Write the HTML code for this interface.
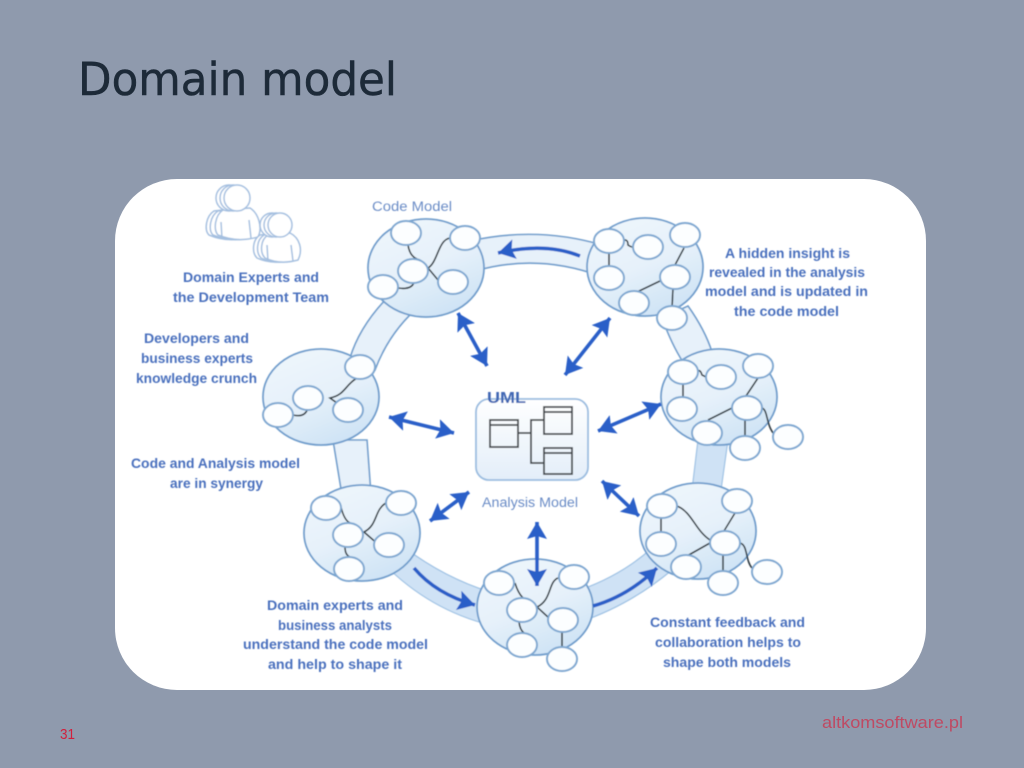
<!DOCTYPE html>
<html>
<head>
<meta charset="utf-8">
<style>
html,body{margin:0;padding:0;width:1024px;height:768px;overflow:hidden;background:#8f9aad}
svg{display:block}
.t{font-family:"Liberation Sans",sans-serif;font-weight:bold;font-size:13.5px;fill:#4a70bd}
.l{font-family:"Liberation Sans",sans-serif;font-size:13.5px;fill:#6a8cc6}
.c{fill:url(#cg);stroke:#6f9dcc;stroke-width:1.8}
.n ellipse{fill:#fcfeff;stroke:#7fa8d1;stroke-width:2}
.k path{fill:none;stroke:#2f3a42;stroke-width:1.6}
.b{fill:#e7f1fa;stroke:#6f9dcc;stroke-width:1.6}
.d{fill:#cfe2f5;stroke:#9fc2e4;stroke-width:1.2}
.a{fill:none;stroke:#2a5fc8;stroke-width:3.6;marker-end:url(#m)}
.a2{fill:none;stroke:#2a5fc8;stroke-width:3.6;marker-start:url(#m);marker-end:url(#m)}
.p{fill:#fff;stroke:#a5c0e0;stroke-width:1.5}
.p2{fill:none;stroke:#a5c0e0;stroke-width:1.5}
.u{fill:none;stroke:#44494e;stroke-width:1.8}
</style>
</head>
<body>
<svg width="1024" height="768" viewBox="0 0 1024 768" xmlns="http://www.w3.org/2000/svg">
<defs>
<linearGradient id="cg" x1="0.2" y1="0" x2="0.7" y2="1">
<stop offset="0" stop-color="#eef6fc"/><stop offset="0.5" stop-color="#e6f1fa"/><stop offset="1" stop-color="#cde2f5"/>
</linearGradient>
<linearGradient id="ug" x1="0" y1="0" x2="0" y2="1">
<stop offset="0" stop-color="#ffffff"/><stop offset="1" stop-color="#e3eef9"/>
</linearGradient>
<filter id="bl" x="-5%" y="-5%" width="110%" height="110%"><feGaussianBlur stdDeviation="0.45"/></filter>
<marker id="m" markerUnits="userSpaceOnUse" markerWidth="20" markerHeight="22" refX="17" refY="10" orient="auto-start-reverse">
<path d="M0 0 L17 10 L0 20 L3 10 Z" fill="#2a5fc8"/>
</marker>
</defs>

<text x="78" y="95" font-family="'DejaVu Sans','Liberation Sans',sans-serif" font-size="45" fill="#1d2a38" stroke="#1d2a38" stroke-width="0.5" textLength="319" lengthAdjust="spacingAndGlyphs">Domain model</text>

<rect x="115" y="179" width="811" height="511" rx="62" ry="62" fill="#ffffff"/>

<g filter="url(#bl)">
<!-- bands -->
<path class="b" d="M470 241 Q537 226 602 245 L600 276 Q537 253 475 271 Z"/>
<path class="b" d="M390 295 Q360 325 350 358 L375 370 Q388 335 415 310 Z"/>
<path class="b" d="M333 440 L342 495 L371 495 L367 440 Z"/>
<path class="b" d="M662 318 Q672 345 683 362 L712 352 Q705 330 688 306 Z"/>
<path class="d" d="M698 440 L692 490 L721 490 L728 440 Z"/>
<path class="d" d="M405 548 Q445 578 490 592 L490 625 Q430 610 385 565 Z"/>
<path class="d" d="M580 590 Q622 575 652 548 L672 570 Q630 605 580 622 Z"/>

<!-- clusters -->
<ellipse class="c" cx="426" cy="268" rx="58" ry="49"/>
<ellipse class="c" cx="645" cy="267" rx="58" ry="49"/>
<ellipse class="c" cx="321" cy="397" rx="58" ry="48"/>
<ellipse class="c" cx="719" cy="397" rx="58" ry="48"/>
<ellipse class="c" cx="698" cy="531" rx="58" ry="48"/>
<ellipse class="c" cx="362" cy="533" rx="58" ry="48"/>
<ellipse class="c" cx="535" cy="607" rx="58" ry="48"/>

<!-- links -->
<g class="k">
<path d="M408 245 Q410 258 420 260"/>
<path d="M450 238 C438 240 438 262 428 268 L438 280"/>
<path d="M398 288 Q412 290 414 282"/>
<path d="M622 241 Q628 238 628 245 Q632 248 636 247"/>
<path d="M609 252 L609 268"/>
<path d="M684 248 L675 265"/>
<path d="M660 281 L635 293"/>
<path d="M673 288 L672 308"/>
<path d="M357 378 C345 385 345 395 330 398 L347 410"/>
<path d="M293 415 Q305 418 308 408"/>
<path d="M696 372 Q700 368 702 375 L706 377"/>
<path d="M683 384 L683 397"/>
<path d="M758 378 L746 396"/>
<path d="M732 408 L708 420"/>
<path d="M745 420 L745 436"/>
<path d="M762 408 C768 410 766 425 774 434"/>
<path d="M677 506 C692 512 695 530 710 540"/>
<path d="M735 513 L724 531"/>
<path d="M661 518 L661 532"/>
<path d="M710 543 L687 556"/>
<path d="M723 555 L723 571"/>
<path d="M740 543 C748 545 745 560 752 568"/>
<path d="M341 507 Q344 520 350 523"/>
<path d="M386 503 C374 510 378 525 364 532 L379 545"/>
<path d="M345 547 Q345 555 350 557"/>
<path d="M515 583 Q518 593 523 598"/>
<path d="M558 578 C548 582 552 600 537 607 L549 618"/>
<path d="M519 622 Q520 630 524 633"/>
<path d="M562 632 L562 647"/>
</g>

<!-- nodes -->
<g class="n">
<ellipse cx="406" cy="233" rx="15" ry="12"/><ellipse cx="465" cy="238" rx="15" ry="12"/><ellipse cx="413" cy="271" rx="15" ry="12"/><ellipse cx="383" cy="287" rx="15" ry="12"/><ellipse cx="453" cy="282" rx="15" ry="12"/>
<ellipse cx="609" cy="241" rx="15" ry="12"/><ellipse cx="648" cy="247" rx="15" ry="12"/><ellipse cx="685" cy="235" rx="15" ry="12"/><ellipse cx="609" cy="278" rx="15" ry="12"/><ellipse cx="675" cy="277" rx="15" ry="12"/><ellipse cx="634" cy="303" rx="15" ry="12"/><ellipse cx="672" cy="318" rx="15" ry="12"/>
<ellipse cx="360" cy="367" rx="15" ry="12"/><ellipse cx="308" cy="398" rx="15" ry="12"/><ellipse cx="278" cy="415" rx="15" ry="12"/><ellipse cx="348" cy="410" rx="15" ry="12"/>
<ellipse cx="683" cy="372" rx="15" ry="12"/><ellipse cx="721" cy="377" rx="15" ry="12"/><ellipse cx="758" cy="366" rx="15" ry="12"/><ellipse cx="682" cy="409" rx="15" ry="12"/><ellipse cx="747" cy="408" rx="15" ry="12"/><ellipse cx="707" cy="433" rx="15" ry="12"/><ellipse cx="745" cy="448" rx="15" ry="12"/><ellipse cx="788" cy="437" rx="15" ry="12"/>
<ellipse cx="662" cy="506" rx="15" ry="12"/><ellipse cx="737" cy="501" rx="15" ry="12"/><ellipse cx="661" cy="544" rx="15" ry="12"/><ellipse cx="725" cy="543" rx="15" ry="12"/><ellipse cx="686" cy="567" rx="15" ry="12"/><ellipse cx="723" cy="583" rx="15" ry="12"/><ellipse cx="767" cy="572" rx="15" ry="12"/>
<ellipse cx="326" cy="508" rx="15" ry="12"/><ellipse cx="401" cy="503" rx="15" ry="12"/><ellipse cx="348" cy="535" rx="15" ry="12"/><ellipse cx="389" cy="545" rx="15" ry="12"/><ellipse cx="349" cy="569" rx="15" ry="12"/>
<ellipse cx="499" cy="583" rx="15" ry="12"/><ellipse cx="574" cy="577" rx="15" ry="12"/><ellipse cx="522" cy="610" rx="15" ry="12"/><ellipse cx="563" cy="620" rx="15" ry="12"/><ellipse cx="522" cy="645" rx="15" ry="12"/><ellipse cx="562" cy="659" rx="15" ry="12"/>
</g>

<!-- curved arrows -->
<path class="a" d="M580 256 Q545 242 498 253"/>
<path class="a" d="M414 568 Q436 594 475 605"/>
<path class="a" d="M593 606 Q628 596 657 568"/>

<!-- double arrows -->
<path class="a2" d="M458 313 L487 366"/>
<path class="a2" d="M610 318 L565 375"/>
<path class="a2" d="M389 417 L454 433"/>
<path class="a2" d="M661 404 L598 431"/>
<path class="a2" d="M469 492 L430 521"/>
<path class="a2" d="M602 481 L639 516"/>
<path class="a2" d="M537 522 L537 586"/>

<!-- UML -->
<rect x="476" y="399" width="112" height="81" rx="13" ry="13" fill="url(#ug)" stroke="#9cbde0" stroke-width="1.8"/>
<rect x="490" y="420" width="28" height="27" class="u"/><path class="u" d="M490 425 H518"/>
<rect x="544" y="407" width="28" height="27" class="u"/><path class="u" d="M544 412 H572"/>
<rect x="544" y="448" width="28" height="26" class="u"/><path class="u" d="M544 453 H572"/>
<path class="u" d="M518 433 H531 M544 420 H531 V463 H544"/>
<text x="487" y="403" font-family="'Liberation Sans',sans-serif" font-weight="bold" font-size="16" fill="#3f66b3" textLength="39" lengthAdjust="spacingAndGlyphs">UML</text>

<!-- people -->
<path class="p" d="M214 211 C206 216 204 230 209 235 Q228 243 249 237 C254 227 249 213 241 208 Z"/>
<path class="p" d="M218 211 C210 216 208 230 213 235 Q232 243 253 237 C258 227 253 213 245 208 Z"/>
<path class="p" d="M223 210 C215 215 213 230 218 235 Q237 243 258 237 C263 227 258 213 250 208 Z"/>
<path class="p2" d="M222 238 L221 222 M251 238 L249 220"/>
<circle class="p" cx="229" cy="198" r="13"/><circle class="p" cx="233" cy="198" r="13"/><circle class="p" cx="237" cy="198" r="13"/>
<path class="p" d="M260 235 C252 240 252 253 257 258 Q272 265 290 260 C295 250 292 238 282 233 Z"/>
<path class="p" d="M264 235 C256 240 256 253 261 258 Q276 265 294 260 C299 250 296 238 286 233 Z"/>
<path class="p" d="M268 235 C260 240 260 253 265 258 Q280 265 298 260 C303 250 300 238 290 233 Z"/>
<path class="p2" d="M268 261 L267 245 M293 261 L291 245"/>
<circle class="p" cx="272" cy="225" r="12"/><circle class="p" cx="276" cy="225" r="12"/><circle class="p" cx="280" cy="225" r="12"/>

<!-- labels -->
<text class="l" x="372" y="211" textLength="80" lengthAdjust="spacingAndGlyphs">Code Model</text>
<text class="l" x="482" y="507" textLength="96" lengthAdjust="spacingAndGlyphs">Analysis Model</text>

<text class="t" x="183" y="282" textLength="136" lengthAdjust="spacingAndGlyphs">Domain Experts and</text>
<text class="t" x="173" y="302" textLength="156" lengthAdjust="spacingAndGlyphs">the Development Team</text>
<text class="t" x="144" y="343" textLength="105" lengthAdjust="spacingAndGlyphs">Developers and</text>
<text class="t" x="141" y="363" textLength="112" lengthAdjust="spacingAndGlyphs">business experts</text>
<text class="t" x="136" y="383" textLength="121" lengthAdjust="spacingAndGlyphs">knowledge crunch</text>
<text class="t" x="131" y="468" textLength="169" lengthAdjust="spacingAndGlyphs">Code and Analysis model</text>
<text class="t" x="170" y="488" textLength="93" lengthAdjust="spacingAndGlyphs">are in synergy</text>
<text class="t" x="267" y="610" textLength="136" lengthAdjust="spacingAndGlyphs">Domain experts and</text>
<text class="t" x="278" y="630" textLength="114" lengthAdjust="spacingAndGlyphs">business analysts</text>
<text class="t" x="243" y="649" textLength="185" lengthAdjust="spacingAndGlyphs">understand the code model</text>
<text class="t" x="268" y="669" textLength="134" lengthAdjust="spacingAndGlyphs">and help to shape it</text>
<text class="t" x="650" y="627" textLength="155" lengthAdjust="spacingAndGlyphs">Constant feedback and</text>
<text class="t" x="655" y="647" textLength="146" lengthAdjust="spacingAndGlyphs">collaboration helps to</text>
<text class="t" x="663" y="667" textLength="128" lengthAdjust="spacingAndGlyphs">shape both models</text>
<text class="t" x="725" y="258" textLength="125" lengthAdjust="spacingAndGlyphs">A hidden insight is</text>
<text class="t" x="709" y="277" textLength="156" lengthAdjust="spacingAndGlyphs">revealed in the analysis</text>
<text class="t" x="705" y="296" textLength="163" lengthAdjust="spacingAndGlyphs">model and is updated in</text>
<text class="t" x="734" y="316" textLength="105" lengthAdjust="spacingAndGlyphs">the code model</text>
</g>

<text x="60" y="739" font-family="'Liberation Sans',sans-serif" font-size="15" fill="#d21f3c" textLength="15" lengthAdjust="spacingAndGlyphs">31</text>
<text x="822" y="728" font-family="'Liberation Sans',sans-serif" font-size="17" fill="#bf4a63" textLength="141" lengthAdjust="spacingAndGlyphs">altkomsoftware.pl</text>
</svg>
</body>
</html>
